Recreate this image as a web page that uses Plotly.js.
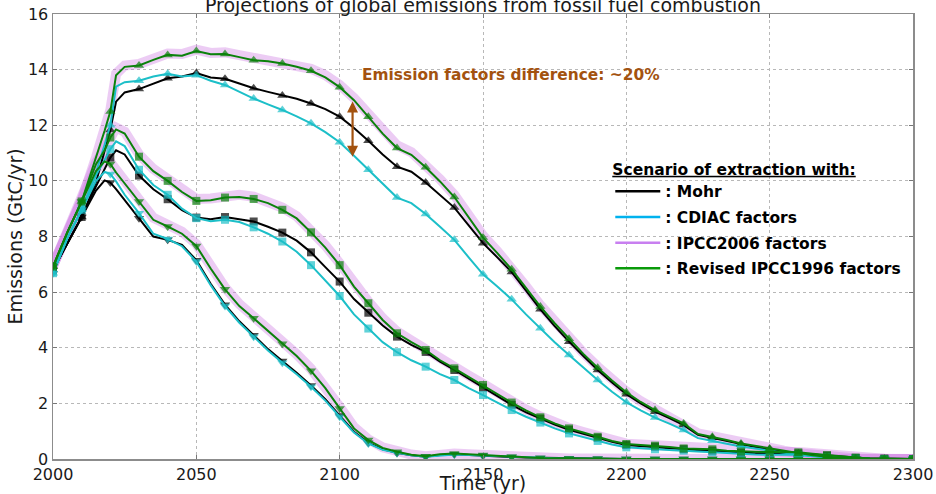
<!DOCTYPE html>
<html>
<head>
<meta charset="utf-8">
<script src="https://cdn.plot.ly/plotly-3.0.1.min.js"></script>
<style>html,body{margin:0;padding:0;background:#fff;}#chart{width:936px;height:494px;}</style>
</head>
<body>
<div id="chart"></div>
<script>
// Years (irregular near 2020 to catch the sharp rise)
const years = [2000,2005,2010,2015,2018,2020,2022,2025,
  2030,2035,2040,2045,2050,2055,2060,2065,2070,2075,
  2080,2085,2090,2095,2100,2105,2110,2115,2120,2125,
  2130,2135,2140,2145,2150,2155,2160,2165,2170,2175,
  2180,2185,2190,2195,2200,2205,2210,2215,2220,2225,
  2230,2235,2240,2245,2250,2255,2260,2265,2270,2275,
  2280,2285,2290,2295,2300];

// High scenario (triangle up)
const hiRev96 = [6.92,8.15,9.26,10.8,11.8,12.49,13.8,14.1,
  14.15,14.35,14.53,14.5,14.67,14.55,14.56,14.45,14.34,14.3,
  14.22,14.1,13.96,13.72,13.37,12.9,12.31,11.7,11.18,10.94,
  10.49,9.98,9.42,8.7,7.96,7.4,6.82,6.15,5.48,4.88,
  4.32,3.78,3.28,2.82,2.4,2.05,1.76,1.52,1.28,0.9,
  0.8,0.68,0.56,0.47,0.38,0.29,0.2,0.13,0.08,0.04,
  0.02,0.01,0,0,0];
const hiIpcc06 = [6.95,8.2,9.3,10.85,11.85,12.55,13.85,14.15,
  14.2,14.4,14.58,14.56,14.72,14.6,14.62,14.52,14.42,14.38,
  14.3,14.18,14.03,13.8,13.45,12.98,12.4,11.8,11.28,11.03,
  10.57,10.06,9.5,8.78,8.03,7.47,6.88,6.21,5.53,4.93,
  4.37,3.82,3.32,2.86,2.43,2.08,1.79,1.55,1.3,0.92,
  0.82,0.7,0.57,0.48,0.39,0.3,0.21,0.14,0.08,0.04,
  0.02,0.01,0,0,0];
const hiMohr = [6.8,7.76,8.7,9.95,11.1,11.83,12.85,13.18,
  13.3,13.5,13.69,13.75,13.88,13.72,13.67,13.5,13.33,13.2,
  13.07,12.95,12.78,12.58,12.31,11.9,11.44,10.95,10.51,10.33,
  9.94,9.5,9.04,8.4,7.76,7.25,6.72,6.05,5.38,4.78,
  4.22,3.7,3.2,2.75,2.33,2.0,1.7,1.47,1.22,0.87,
  0.76,0.64,0.52,0.43,0.35,0.26,0.18,0.12,0.07,0.04,
  0.02,0.01,0,0,0];
const hiCdiac = [6.68,7.94,8.96,10.3,11.3,12.0,13.39,13.55,
  13.6,13.75,13.85,13.75,13.8,13.6,13.45,13.2,12.96,12.75,
  12.55,12.32,12.07,11.75,11.39,10.9,10.4,9.9,9.4,9.2,
  8.81,8.35,7.88,7.25,6.64,6.2,5.74,5.2,4.7,4.2,
  3.74,3.28,2.84,2.42,2.04,1.75,1.49,1.27,1.04,0.75,
  0.66,0.55,0.45,0.37,0.3,0.22,0.15,0.1,0.06,0.03,
  0.01,0,0,0,0];

// Medium scenario (square)
const midRev96 = [6.92,8.15,9.26,10.6,11.1,11.56,11.85,11.7,
  10.87,10.35,10.0,9.6,9.28,9.3,9.4,9.42,9.35,9.2,
  8.96,8.65,8.15,7.6,6.97,6.2,5.6,5.0,4.52,4.2,
  3.92,3.55,3.26,2.95,2.66,2.33,2.03,1.75,1.5,1.28,
  1.1,0.95,0.8,0.65,0.54,0.51,0.48,0.43,0.38,0.36,
  0.35,0.3,0.27,0.26,0.25,0.25,0.24,0.19,0.14,0.09,
  0.05,0.02,0.01,0,0];
const midIpcc06 = [6.95,8.2,9.3,10.65,11.15,11.62,11.92,11.77,
  10.95,10.43,10.07,9.67,9.35,9.37,9.47,9.5,9.43,9.28,
  9.04,8.73,8.23,7.68,7.04,6.27,5.66,5.06,4.58,4.26,
  3.97,3.6,3.31,3.0,2.7,2.37,2.06,1.78,1.53,1.3,
  1.12,0.97,0.82,0.66,0.55,0.52,0.49,0.44,0.39,0.37,
  0.36,0.31,0.28,0.27,0.26,0.26,0.25,0.2,0.14,0.09,
  0.05,0.02,0.01,0,0];
const midMohr = [6.8,7.76,8.7,9.8,10.4,10.84,11.1,10.95,
  10.19,9.7,9.34,8.95,8.68,8.62,8.7,8.62,8.54,8.35,
  8.14,7.85,7.43,6.9,6.38,5.75,5.26,4.8,4.4,4.1,
  3.85,3.5,3.2,2.88,2.57,2.25,1.95,1.68,1.45,1.24,
  1.05,0.9,0.76,0.62,0.5,0.47,0.44,0.39,0.35,0.32,
  0.3,0.26,0.22,0.21,0.2,0.2,0.2,0.16,0.12,0.08,
  0.04,0.02,0.01,0,0];
const midCdiac = [6.68,7.94,8.96,10.2,10.75,11.14,11.42,11.25,
  10.4,9.85,9.5,9.0,8.66,8.55,8.6,8.52,8.33,8.1,
  7.82,7.45,6.97,6.4,5.86,5.2,4.69,4.2,3.84,3.55,
  3.32,3.05,2.84,2.55,2.3,2.02,1.76,1.52,1.31,1.1,
  0.92,0.78,0.65,0.52,0.42,0.38,0.35,0.32,0.3,0.27,
  0.25,0.2,0.17,0.16,0.15,0.15,0.15,0.11,0.08,0.05,
  0.03,0.01,0,0,0];

// Low scenario (triangle down)
const lowRev96 = [6.92,8.15,9.26,10.35,10.7,10.61,10.3,9.9,
  9.26,8.6,8.36,8.1,7.66,6.85,6.1,5.5,5.06,4.6,
  4.14,3.7,3.17,2.55,1.82,1.1,0.68,0.4,0.26,0.15,
  0.1,0.17,0.2,0.17,0.14,0.1,0.08,0.06,0.04,0.03,
  0.02,0.02,0.01,0.01,0,0,0,0,0,0,
  0,0,0,0,0,0,0,0,0,0,
  0,0,0,0,0];
const lowIpcc06 = [6.95,8.2,9.3,10.4,10.76,10.67,10.37,9.97,
  9.33,8.67,8.43,8.17,7.73,6.92,6.17,5.57,5.13,4.67,
  4.21,3.77,3.24,2.62,1.88,1.15,0.71,0.42,0.27,0.16,
  0.1,0.17,0.2,0.17,0.14,0.1,0.08,0.06,0.04,0.03,
  0.02,0.02,0.01,0.01,0,0,0,0,0,0,
  0,0,0,0,0,0,0,0,0,0,
  0,0,0,0,0];
const lowMohr = [6.8,7.76,8.7,9.65,10.02,9.94,9.7,9.3,
  8.66,8.0,7.88,7.7,7.15,6.3,5.55,4.95,4.45,3.95,
  3.52,3.1,2.64,2.15,1.56,0.98,0.58,0.35,0.22,0.13,
  0.08,0.14,0.17,0.14,0.12,0.09,0.07,0.05,0.04,0.03,
  0.02,0.01,0.01,0,0,0,0,0,0,0,
  0,0,0,0,0,0,0,0,0,0,
  0,0,0,0,0];
const lowCdiac = [6.68,7.94,8.96,10.0,10.32,10.25,9.98,9.5,
  8.84,8.1,7.91,7.65,7.1,6.25,5.5,4.9,4.4,3.9,
  3.46,3.05,2.6,2.1,1.52,0.95,0.56,0.33,0.22,0.13,
  0.08,0.13,0.16,0.14,0.12,0.09,0.07,0.05,0.04,0.03,
  0.02,0.01,0.01,0,0,0,0,0,0,0,
  0,0,0,0,0,0,0,0,0,0,
  0,0,0,0,0];

const legendLabels = [': Mohr', ': CDIAC factors', ': IPCC2006 factors', ': Revised IPCC1996 factors'];
const xTicks = [2000,2050,2100,2150,2200,2250,2300];
const yTicks = [0,2,4,6,8,10,12,14,16];

const FONT = 'DejaVu Sans, Bitstream Vera Sans, sans-serif';
const C = {
  mohr: '#000000', cdiac: '#1cbfc8', ipcc: 'rgba(205,120,225,0.38)', rev: '#0b820b',
  legMohr: '#000000', legCdiac: '#00b2ee', legIpcc: '#c87ff0', legRev: '#0a9a0a'
};

const decSize = s => years.map(y => (y % 10 === 0 ? s : 0));

function curve(ys, color, width, symbol, msize) {
  const t = {
    x: years, y: ys, type: 'scatter', showlegend: false, hoverinfo: 'skip',
    line: {color: color, width: width}, cliponaxis: true
  };
  if (symbol) {
    t.mode = 'lines+markers';
    t.marker = {symbol: symbol, size: decSize(msize), color: color, line: {width: 0}};
  } else {
    t.mode = 'lines';
  }
  return t;
}

const scen = [
  {sym: 'triangle-up', ms: 9, mohr: hiMohr, cdiac: hiCdiac, ipcc: hiIpcc06, rev: hiRev96},
  {sym: 'square', ms: 8, mohr: midMohr, cdiac: midCdiac, ipcc: midIpcc06, rev: midRev96},
  {sym: 'triangle-down', ms: 9, mohr: lowMohr, cdiac: lowCdiac, ipcc: lowIpcc06, rev: lowRev96}
];

const traces = [];
scen.forEach(s => traces.push(curve(s.ipcc, C.ipcc, 10, null, 0)));
scen.forEach(s => traces.push(curve(s.mohr, C.mohr, 2, s.sym, s.ms)));
scen.forEach(s => traces.push(curve(s.cdiac, C.cdiac, 2, s.sym, s.ms)));
scen.forEach(s => traces.push(curve(s.rev, C.rev, 2, s.sym, s.ms)));

const legColors = [C.legMohr, C.legCdiac, C.legIpcc, C.legRev];
legendLabels.forEach((lab, i) => {
  traces.push({
    x: [null], y: [null], type: 'scatter', mode: 'lines', name: '<b>' + lab + '</b>',
    legendgroup: 'g' + i,
    line: {color: legColors[i], width: 2.5}, hoverinfo: 'skip'
  });
});

const axisCommon = {
  showgrid: true, gridcolor: '#b8b8b8', griddash: 'dot', gridwidth: 1,
  showline: true, linecolor: '#8c8c8c', linewidth: 1.5, mirror: 'ticks',
  ticks: 'inside', ticklen: 4, tickcolor: '#777', tickwidth: 1,
  zeroline: false, tickfont: {family: FONT, size: 16, color: '#1a1a1a'}
};

const layout = {
  width: 936, height: 494,
  margin: {l: 53, r: 23, t: 14, b: 35, pad: 0},
  paper_bgcolor: '#ffffff', plot_bgcolor: '#ffffff',
  font: {family: FONT, color: '#1a1a1a'},
  title: {
    text: 'Projections of global emissions from fossil fuel combustion',
    font: {family: FONT, size: 19, color: '#1a1a1a'},
    x: 0.5, xref: 'paper', xanchor: 'center',
    y: 1, yref: 'paper', yanchor: 'bottom', pad: {b: 2}
  },
  xaxis: Object.assign({}, axisCommon, {
    range: [2000, 2300], tickvals: xTicks, ticktext: xTicks.map(String),
    title: {text: 'Time (yr)', font: {family: FONT, size: 19, color: '#1a1a1a'}, standoff: 0}
  }),
  yaxis: Object.assign({}, axisCommon, {
    range: [0, 16], tickvals: yTicks, ticktext: yTicks.map(String),
    title: {text: 'Emissions (GtC/yr)', font: {family: FONT, size: 19, color: '#1a1a1a'}, standoff: 0}
  }),
  showlegend: true,
  legend: {
    x: 0.648, y: 0.684, xanchor: 'left', yanchor: 'top',
    bgcolor: 'rgba(0,0,0,0)', borderwidth: 0,
    font: {family: FONT, size: 15.5, color: '#000'},
    title: {text: '<b><u>Scenario of extraction with:</u></b>', font: {family: FONT, size: 15.5, color: '#000'}},
    itemwidth: 45, traceorder: 'grouped', tracegroupgap: 2.5
  },
  annotations: [
    {
      x: 2107, y: 13.8, xref: 'x', yref: 'y', xanchor: 'left', yanchor: 'middle',
      text: '<b>Emission factors difference: ~20%</b>', showarrow: false,
      font: {family: FONT, size: 15.4, color: '#a3520f'}
    },
    {
      x: 2104.5, y: 10.87, xref: 'x', yref: 'y',
      ax: 2104.5, ay: 12.91, axref: 'x', ayref: 'y',
      text: '', showarrow: true, arrowhead: 2, startarrowhead: 2, arrowside: 'end+start',
      arrowsize: 1, startarrowsize: 1, arrowwidth: 2.2, arrowcolor: '#a3520f'
    }
  ]
};

Plotly.newPlot('chart', traces, layout, {staticPlot: true, displayModeBar: false});
</script>
</body>
</html>
